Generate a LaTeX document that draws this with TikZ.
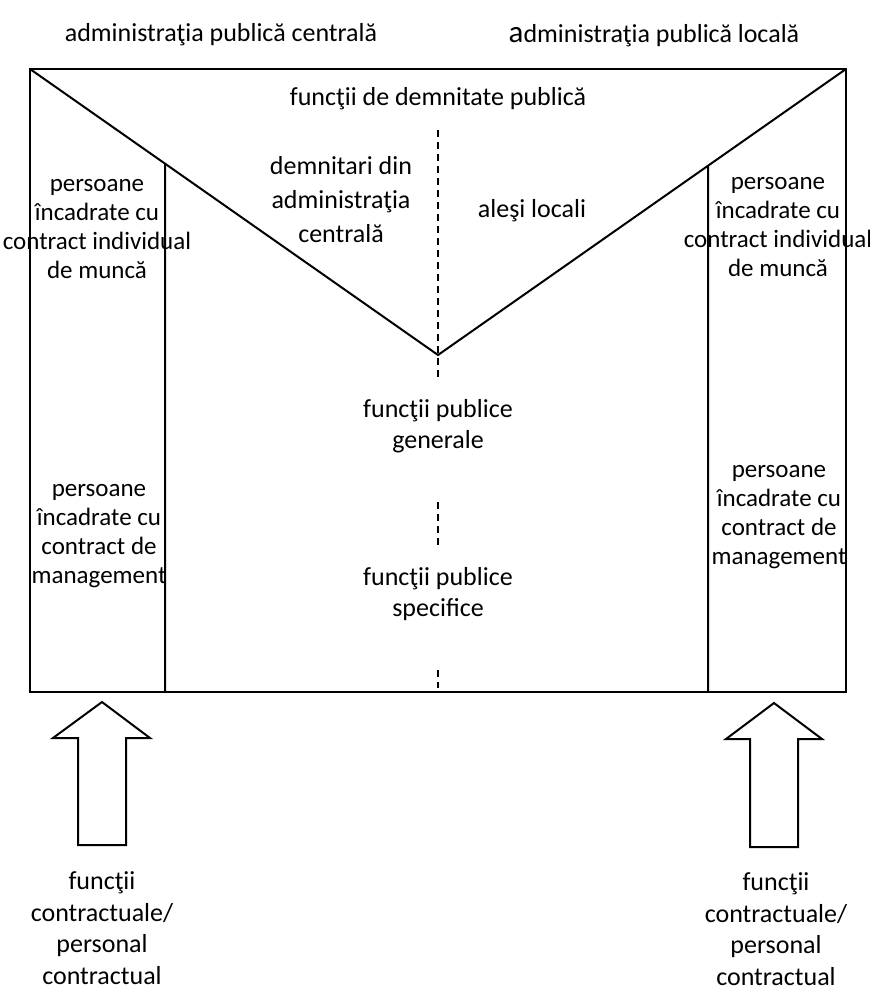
\documentclass[tikz,border=0pt]{standalone}
\usepackage{fontspec}
\setmainfont{Carlito}
\begin{document}
\begin{tikzpicture}[x=1pt,y=-1pt,
  frame/.style={line width=2pt, line join=miter},
  divider/.style={line width=2pt, dash pattern=on 7pt off 5pt},
  txt/.style={align=center, inner sep=0pt, font=\fontsize{26}{31.5}\selectfont},
  sidetxt/.style={align=center, inner sep=0pt, font=\fontsize{25}{29}\selectfont},
  blockarrow/.style={line width=2pt, line join=miter, fill=white}]
\useasboundingbox (0,0) rectangle (870,988);
\fill[white] (0,0) rectangle (870,988);

% outer frame and the V of the dignity functions
\coordinate (tl) at (30,69);
\coordinate (tr) at (846,69);
\coordinate (br) at (846,692);
\coordinate (bl) at (30,692);
\coordinate (v)  at (438,355);
\draw[frame] (tl) rectangle (br);
\draw[frame] (tl) -- (v) -- (tr);

% columns of contractual staff
\coordinate (lb) at (165,692);
\coordinate (rb) at (708,692);
\coordinate (lt) at (intersection of tl--v and lb--165,0);
\coordinate (rt) at (intersection of tr--v and rb--708,0);
\draw[frame] (lt) -- (lb);
\draw[frame] (rt) -- (rb);

% dashed split between central and local administration
\coordinate (d0) at (438,130);
\coordinate (d1) at (438,358);
\coordinate (d2) at (438,378);
\coordinate (d3) at (438,502);
\coordinate (d4) at (438,545);
\coordinate (d5) at (438,670);
\coordinate (d6) at (438,688);
\draw[divider] (d0) -- (v);
\draw[divider] (d1) -- (d2);
\draw[divider] (d3) -- (d4);
\draw[divider] (d5) -- (d6);

% headings
\node[txt] (central) at (221,35) {administraţia publică centrală};
\node[txt] (local) at (654,36) {{\fontsize{31}{31}\selectfont a}dministraţia publică locală};

% inner texts
\node[txt] (dignity) at (438,99) {funcţii de demnitate publică};
\node[txt, font=\fontsize{26}{34}\selectfont] (demnitari) at (341,200) {demnitari din\\administraţia\\centrală};
\node[txt] (alesi) at (532,211) {aleşi locali};
\node[txt] (generale) at (438,426) {funcţii publice\\generale};
\node[txt] (specifice) at (438,594) {funcţii publice\\specifice};

\node[sidetxt] (cimL) at (97,229) {persoane\\încadrate cu\\contract individual\\de muncă};
\node[sidetxt] (cimR) at (778,227) {persoane\\încadrate cu\\contract individual\\de muncă};
\node[sidetxt] (cmL) at (99,536) {persoane\\încadrate cu\\contract de\\management};
\node[sidetxt] (cmR) at (779,517) {persoane\\încadrate cu\\contract de\\management};

% block arrows pointing up into the frame
\draw[blockarrow] (102,702) -- (150,738) -- (126,738) -- (126,845)
  -- (78,845) -- (78,738) -- (53,738) -- cycle;
\draw[blockarrow] (774,703) -- (822,739) -- (798,739) -- (798,847)
  -- (750,847) -- (750,739) -- (726,739) -- cycle;

\node[txt] (contrL) at (102,928) {funcţii\\contractuale/\\personal\\contractual};
\node[txt] (contrR) at (776,929) {funcţii\\contractuale/\\personal\\contractual};
\end{tikzpicture}
\end{document}
